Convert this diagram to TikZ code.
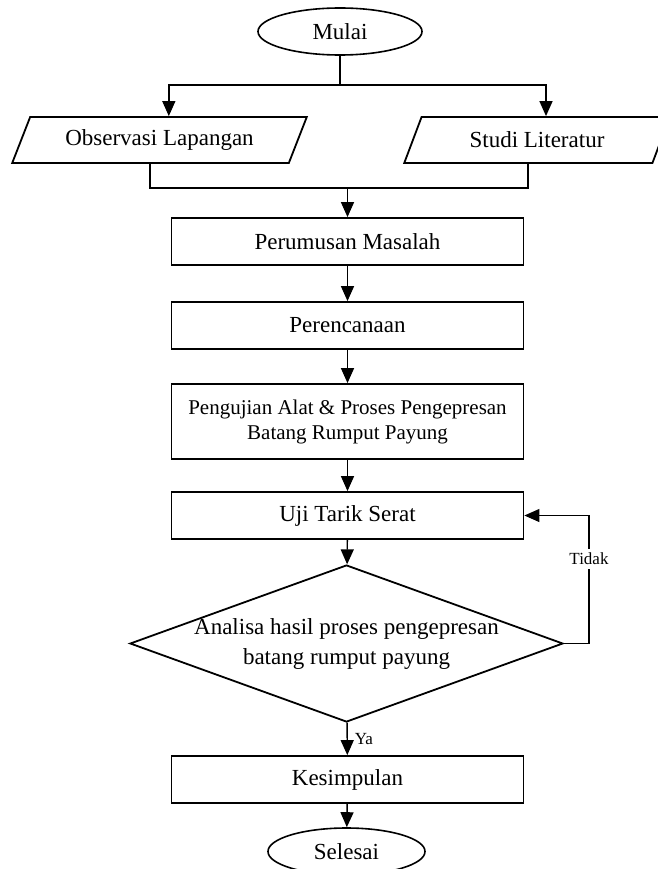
\documentclass[tikz,border=0pt]{standalone}
\usepackage{fontspec}
\setmainfont{Liberation Serif}
\usetikzlibrary{shapes.geometric,arrows.meta}
\begin{document}
\begin{tikzpicture}[x=1pt,y=-1pt,
    terminal/.style={ellipse,draw,line width=1.6pt,minimum width=164pt,minimum height=47pt,inner sep=0pt,font=\fontsize{23}{27}\selectfont},
    datain/.style={trapezium,trapezium left angle=58,trapezium right angle=122,trapezium stretches=true,draw,line width=1.8pt,minimum height=46pt,inner sep=0pt,font=\fontsize{23}{27}\selectfont},
    proses/.style={rectangle,draw,line width=1.8pt,minimum width=352pt,minimum height=47pt,inner sep=0pt,align=center,font=\fontsize{23}{27}\selectfont},
    keputusan/.style={diamond,draw,line width=1.8pt,aspect=2.76,minimum width=433pt,minimum height=157pt,inner xsep=-4pt,inner ysep=-2pt,align=center,font=\fontsize{23}{30}\selectfont},
    panah/.style={-{Triangle[length=15pt,width=13pt]},line width=1.4pt},
    garis/.style={line width=1.4pt},
    ket/.style={font=\fontsize{17}{20}\selectfont,inner sep=1pt}]
\useasboundingbox (0,0) rectangle (657,869);
\node[terminal] (mulai) at (340,31.5) {Mulai};
\node[datain,minimum width=295pt] (obs) at (159.5,140) {Observasi Lapangan};
\node[datain,minimum width=266pt] (studi) at (537,140) {Studi Literatur};
\node[proses] (rumus) at (347.5,241.5) {Perumusan Masalah};
\node[proses] (rencana) at (347.5,325.5) {Perencanaan};
\node[proses,minimum height=75pt,font=\fontsize{21}{25}\selectfont] (alat) at (347.5,421.5) {Pengujian Alat \& Proses Pengepresan\\Batang Rumput Payung};
\node[proses] (tarik) at (347.5,515.5) {Uji Tarik Serat};
\node[keputusan] (analisa) at (346.5,643.5) {Analisa hasil proses pengepresan\\batang rumput payung};
\node[proses] (simpul) at (347.5,779.5) {Kesimpulan};
\node[terminal,minimum width=157pt] (selesai) at (346.5,851.5) {Selesai};
\coordinate (cabang) at (340,85);
\coordinate (gabung) at (347.5,188);
\coordinate (balik) at (589,643.5);

\draw[garis] (mulai) -- (cabang);
\draw[panah] (cabang) -| (obs.top side);
\draw[panah] (cabang) -| (studi.top side);
\draw[garis] (obs.bottom side) |- (gabung);
\draw[garis] (studi.bottom side) |- (gabung);
\draw[panah] (gabung) -- (rumus);
\draw[panah] (rumus) -- (rencana);
\draw[panah] (rencana) -- (alat);
\draw[panah] (alat) -- (tarik);
\draw[panah] (tarik) -- (analisa);
\draw[panah] (analisa) -- node[ket,right=6pt,pos=0.5] {Ya} (simpul);
\draw[panah] (simpul) -- (selesai);
\draw[garis,line width=1.2pt] (analisa.east) -- (balik);
\draw[panah,line width=1.2pt] (balik) |- node[ket,fill=white,inner ysep=4pt,pos=0.33] {Tidak} (tarik.east);
\end{tikzpicture}
\end{document}
